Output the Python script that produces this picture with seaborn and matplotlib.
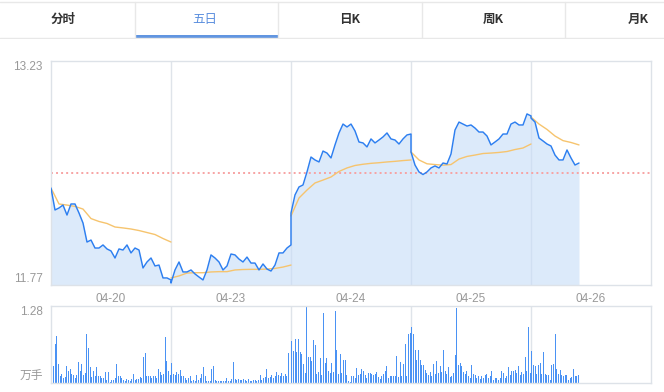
import numpy as np
import pandas as pd
import matplotlib
matplotlib.use("Agg")
import matplotlib.pyplot as plt
import seaborn as sns

# ---------------- data ----------------
tabs = ["分时", "五日", "日K", "周K", "月K"]
active_tab = "五日"
days = ["04-20", "04-23", "04-24", "04-25", "04-26"]
pre_close = 12.50
price_min, price_max = 11.77, 13.23
price_tick_labels = ["11.77", "13.23"]
vol_max = 1.28
vol_tick_labels = ["万手", "1.28"]

# price, sampled every 8 minutes
price_0420 = [12.402, 12.259, 12.272, 12.291, 12.226, 12.298, 12.298, 12.239, 12.174, 12.050,
              12.063, 12.011, 12.011, 12.031, 12.005, 11.992, 11.946, 12.005, 11.998, 12.031,
              11.979, 12.011, 11.998, 11.881, 11.920, 11.946, 11.894, 11.900, 11.816, 11.816, 11.803]
price_0423 = [11.783, 11.868, 11.920, 11.855, 11.855, 11.868, 11.842, 11.822, 11.803, 11.868,
              11.966, 11.946, 11.920, 11.868, 11.894, 11.972, 11.966, 11.939, 11.920, 11.952,
              11.913, 11.913, 11.868, 11.907, 11.874, 11.861, 11.900, 11.979, 11.979, 12.011, 12.031]
price_0424 = [12.239, 12.357, 12.409, 12.422, 12.507, 12.604, 12.585, 12.572, 12.643, 12.630,
              12.598, 12.683, 12.761, 12.819, 12.800, 12.819, 12.774, 12.702, 12.696, 12.670,
              12.722, 12.696, 12.715, 12.735, 12.761, 12.722, 12.715, 12.689, 12.722, 12.748, 12.754]
price_0425 = [12.637, 12.552, 12.507, 12.490, 12.507, 12.533, 12.546, 12.533, 12.565, 12.559,
              12.624, 12.780, 12.832, 12.819, 12.806, 12.813, 12.793, 12.767, 12.767, 12.741,
              12.683, 12.702, 12.722, 12.754, 12.754, 12.819, 12.832, 12.813, 12.813, 12.885, 12.872]
price_0426 = [12.858, 12.832, 12.728, 12.709, 12.689, 12.676, 12.617, 12.585, 12.585, 12.650,
              12.598, 12.552, 12.565]

# average price, sampled every 16 minutes
avg_0420 = [12.402, 12.298, 12.291, 12.282, 12.265, 12.203, 12.184, 12.171, 12.148, 12.142,
            12.135, 12.125, 12.112, 12.099, 12.073, 12.050]
avg_0423 = [11.816, 11.829, 11.848, 11.850, 11.850, 11.855, 11.857, 11.857, 11.868, 11.871,
            11.872, 11.872, 11.874, 11.878, 11.887, 11.900]
avg_0424 = [12.220, 12.337, 12.389, 12.435, 12.454, 12.474, 12.510, 12.533, 12.549, 12.557,
            12.563, 12.567, 12.572, 12.576, 12.581, 12.585]
avg_0425 = [12.637, 12.585, 12.560, 12.555, 12.551, 12.555, 12.591, 12.608, 12.617, 12.627,
            12.630, 12.634, 12.640, 12.653, 12.663, 12.689]
avg_0426 = [12.865, 12.819, 12.784, 12.741, 12.711, 12.699, 12.683]

# volume (万手), 72 bars per full day
vol_0420 = [0.478, 0.286, 0.643, 0.786, 0.319, 0.110, 0.154, 0.082, 0.093, 0.286,
            0.192, 0.236, 0.148, 0.137, 0.082, 0.137, 0.346, 0.203, 0.313, 0.137,
            0.165, 0.808, 0.577, 0.258, 0.093, 0.203, 0.110, 0.258, 0.110, 0.121,
            0.082, 0.082, 0.181, 0.055, 0.176, 0.016, 0.055, 0.055, 0.082, 0.313,
            0.110, 0.110, 0.082, 0.049, 0.038, 0.066, 0.055, 0.038, 0.071, 0.154,
            0.055, 0.071, 0.066, 0.093, 0.082, 0.440, 0.494, 0.110, 0.110, 0.121,
            0.082, 0.110, 0.121, 0.082, 0.236, 0.181, 0.137, 0.148, 0.769, 0.368,
            0.192, 0.137]
vol_0423 = [0.330, 0.148, 0.137, 0.181, 0.148, 0.214, 0.110, 0.110, 0.082, 0.055,
            0.082, 0.110, 0.038, 0.055, 0.038, 0.137, 0.055, 0.082, 0.148, 0.258,
            0.110, 0.038, 0.038, 0.038, 0.236, 0.275, 0.055, 0.038, 0.027, 0.038,
            0.027, 0.038, 0.038, 0.082, 0.038, 0.038, 0.071, 0.346, 0.071, 0.055,
            0.071, 0.055, 0.055, 0.071, 0.055, 0.038, 0.071, 0.038, 0.038, 0.055,
            0.055, 0.038, 0.055, 0.126, 0.055, 0.082, 0.093, 0.236, 0.082, 0.093,
            0.137, 0.082, 0.110, 0.181, 0.137, 0.110, 0.165, 0.110, 0.154, 0.110,
            0.494]
vol_0424 = [0.698, 0.533, 0.731, 0.522, 0.731, 0.511, 0.478, 0.313, 0.165, 1.280,
            0.440, 0.440, 0.368, 0.714, 0.632, 0.148, 0.181, 0.412, 0.137, 1.170,
            0.330, 0.412, 0.192, 0.165, 0.330, 0.181, 1.192, 0.549, 0.154, 0.478,
            0.165, 0.385, 0.385, 0.137, 0.038, 0.016, 0.110, 0.110, 0.082, 0.247,
            0.137, 0.148, 0.236, 0.203, 0.126, 0.082, 0.165, 0.165, 0.148, 0.126,
            0.148, 0.181, 0.093, 0.071, 0.110, 0.148, 0.203, 0.286, 0.082, 0.110,
            0.110, 0.110, 0.110, 0.451, 0.093, 0.346, 0.110, 0.313, 0.643, 0.110,
            0.808, 0.824]
vol_0425 = [0.934, 0.808, 0.549, 0.385, 0.549, 0.385, 0.291, 0.291, 0.220, 0.165,
            0.126, 0.181, 0.110, 0.313, 0.148, 0.368, 0.165, 0.275, 0.181, 0.549,
            0.203, 0.148, 0.258, 0.093, 0.110, 0.165, 0.467, 1.247, 0.302, 0.330,
            0.275, 0.181, 0.148, 0.203, 0.110, 0.082, 0.291, 0.148, 0.126, 0.082,
            0.110, 0.071, 0.110, 0.082, 0.137, 0.148, 0.082, 0.110, 0.203, 0.055,
            0.082, 0.082, 0.055, 0.082, 0.192, 0.165, 0.082, 0.110, 0.258, 0.137,
            0.203, 0.192, 0.220, 0.165, 0.275, 0.137, 0.181, 0.148, 0.440, 0.203,
            0.934, 0.165]
vol_0426 = [0.533, 0.302, 0.275, 0.148, 0.291, 0.330, 0.148, 0.522, 0.148, 0.137,
            0.126, 0.055, 0.291, 0.313, 0.808, 0.236, 0.148, 0.220, 0.137, 0.110,
            0.126, 0.137, 0.055, 0.082, 0.093, 0.236, 0.110, 0.121, 0.137]

price_days = [price_0420, price_0423, price_0424, price_0425, price_0426]
avg_days = [avg_0420, avg_0423, avg_0424, avg_0425, avg_0426]
vol_days = [vol_0420, vol_0423, vol_0424, vol_0425, vol_0426]

DAY = 240  # minutes per trading day
rows_p, rows_a, rows_v = [], [], []
for d in range(len(days)):
    for i, v in enumerate(price_days[d]):
        rows_p.append((d * DAY + i * 8, v))
    for i, v in enumerate(avg_days[d]):
        rows_a.append((days[d], d * DAY + i * 16, v))
    for i, v in enumerate(vol_days[d]):
        rows_v.append((round(d * DAY + (i + 0.5) * DAY / 72, 4), v))
df_p = pd.DataFrame(rows_p, columns=["t", "price"])
df_a = pd.DataFrame(rows_a, columns=["day", "t", "avg"])
df_v = pd.DataFrame(rows_v, columns=["t", "vol"])

# ---------------- figure ----------------
sns.set_theme(style="white")
plt.rcParams["font.family"] = ["Liberation Sans", "Noto Sans CJK SC", "DejaVu Sans"]

W, H = 664, 392
fig = plt.figure(figsize=(W / 100, H / 100), dpi=100)
fig.patch.set_facecolor("white")


def rect(l, t, r, b):
    return [l / W, 1 - b / H, (r - l) / W, (b - t) / H]


axp = fig.add_axes(rect(51, 61, 651, 285))
axv = fig.add_axes(rect(51, 306, 651, 383))
axt = fig.add_axes(rect(0, 0, 664, 39))

grid_c = "#dfe4ea"
label_c = "#999999"
xmax = DAY * len(days)

# price panel
for d in range(1, len(days)):
    axp.axvline(d * DAY, color=grid_c, lw=1, zorder=0.5)
    axv.axvline(d * DAY, color=grid_c, lw=1, zorder=0.5)
axp.fill_between(df_p["t"], df_p["price"], price_min, color="#c6dcf8", alpha=0.6, lw=0, zorder=1)
axp.axhline(pre_close, color="#f7a3a3", lw=1.4, ls=(0, (1, 1.6)), zorder=1.5)
sns.lineplot(data=df_a, x="t", y="avg", units="day", ax=axp, color="#f6c46e", lw=1.0,
             estimator=None, sort=False, zorder=2)
sns.lineplot(data=df_p, x="t", y="price", ax=axp, color="#2d7ff0", lw=1.05,
             estimator=None, sort=False, zorder=3)
axp.set_xlim(0, xmax)
axp.set_ylim(price_min, price_max)
axp.set_xticks([d * DAY + DAY / 2 for d in range(len(days))])
axp.set_xticklabels(days)
axp.set_yticks([price_min, price_max])
axp.set_yticklabels(price_tick_labels)
for lab, va in zip(axp.get_yticklabels(), ["bottom", "top"]):
    lab.set_va(va)
axp.tick_params(axis="both", length=0, colors=label_c, labelsize=8.5)
axp.tick_params(axis="y", pad=6)
axp.tick_params(axis="x", pad=6)
axp.set_xlabel("")
axp.set_ylabel("")

# volume panel
sns.barplot(data=df_v, x="t", y="vol", ax=axv, native_scale=True, color="#4a92f4",
            saturation=1, width=0.68, errorbar=None, linewidth=0, zorder=2)
axv.set_xlim(0, xmax)
axv.set_ylim(0, vol_max)
axv.set_xticks([])
axv.set_yticks([0, vol_max])
axv.set_yticklabels(vol_tick_labels)
for lab, va in zip(axv.get_yticklabels(), ["bottom", "top"]):
    lab.set_va(va)
axv.tick_params(axis="both", length=0, colors=label_c, labelsize=8.5, pad=6)
axv.set_xlabel("")
axv.set_ylabel("")

for ax in (axp, axv):
    for s in ax.spines.values():
        s.set_visible(True)
        s.set_color("#dde2e8")
        s.set_linewidth(1)

# tab bar
axt.set_xlim(0, W)
axt.set_ylim(39, 0)
axt.axis("off")
axt.axhline(2, color="#e8e8e8", lw=1)
axt.axhline(37.5, color="#e8e8e8", lw=1)
tab_edges = [0, 135, 278, 422, 565, 708]
for e in tab_edges[1:-1]:
    axt.plot([e, e], [2, 37.5], color="#e8e8e8", lw=1)
tab_centers = [63, 205, 350, 493, 638]
for name, cx, l, r in zip(tabs, tab_centers, tab_edges[:-1], tab_edges[1:]):
    if name == active_tab:
        axt.fill_between([l, r], 34.5, 37.5, color="#6195e0", lw=0)
        axt.text(cx, 19.5, name, ha="center", va="center", fontsize=9, color="#5b8fde",
                 family=["Noto Sans CJK SC", "DejaVu Sans"])
    else:
        axt.text(cx, 19.5, name, ha="center", va="center", fontsize=9, color="#333333",
                 fontweight="bold", family=["Noto Sans CJK SC", "DejaVu Sans"])

fig.savefig("out.png", dpi=100, facecolor="white")
